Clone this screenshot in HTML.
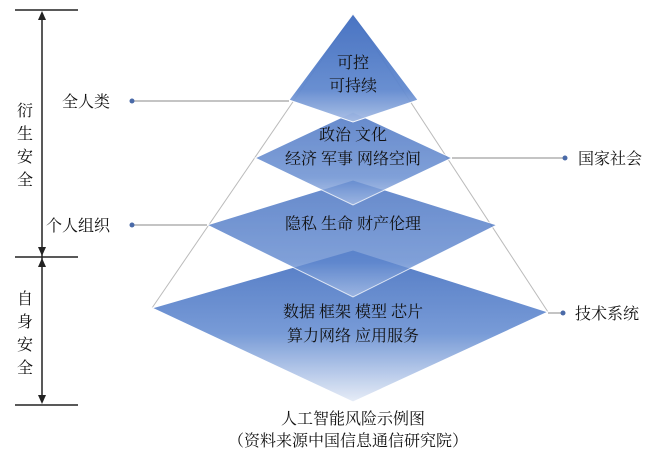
<!DOCTYPE html>
<html><head><meta charset="utf-8"><style>
body{margin:0;background:#fff;width:660px;height:455px;overflow:hidden}
text{font-family:"Liberation Serif","Noto Serif CJK SC",serif;fill:#111}
</style></head><body>
<svg width="660" height="455" viewBox="0 0 660 455" xmlns="http://www.w3.org/2000/svg">
<defs>
<linearGradient id="g" x1="0" y1="0" x2="0" y2="1">
<stop offset="0" stop-color="#3f6cbf"/><stop offset="0.7" stop-color="#6189cf"/><stop offset="1" stop-color="#a9bfe6"/>
</linearGradient>
<linearGradient id="g4" x1="0" y1="0" x2="0" y2="1">
<stop offset="0" stop-color="#4a74c2"/><stop offset="0.55" stop-color="#7196d5"/><stop offset="1" stop-color="#e6ecf7"/>
</linearGradient>
</defs>
<line x1="353" y1="14" x2="152" y2="308" stroke="#bbb" stroke-width="1"/>
<line x1="353" y1="14" x2="548" y2="312" stroke="#bbb" stroke-width="1"/>
<polygon points="353,250 548,312 353,402 152,308" fill="url(#g4)" stroke="#fff" stroke-width="1" opacity="0.95"/>
<polygon points="353,180 497,225 353,297 207,225" fill="url(#g)" stroke="#fff" stroke-width="1" opacity="0.8"/>
<polygon points="353,112 452,158 353,205 255,158" fill="url(#g)" stroke="#fff" stroke-width="1" opacity="0.8"/>
<polygon points="353,14 418,100 353,122 289,100" fill="url(#g)" stroke="#fff" stroke-width="1" opacity="0.95"/>
<g font-size="16" text-anchor="middle">
<text x="353" y="68">可控</text>
<text x="353" y="91">可持续</text>
<text x="353" y="140">政治  文化</text>
<text x="353" y="164">经济 军事 网络空间</text>
<text x="353" y="229">隐私 生命 财产伦理</text>
<text x="353" y="317">数据 框架 模型 芯片</text>
<text x="353" y="341">算力网络 应用服务</text>
<text x="353" y="424">人工智能风险示例图</text>
<text x="348" y="446">（资料来源中国信息通信研究院）</text>
</g>
<g stroke="#888" stroke-width="1">
<line x1="132" y1="101" x2="289" y2="101"/>
<line x1="132" y1="225" x2="207" y2="225"/>
<line x1="452" y1="158" x2="565" y2="158"/>
<line x1="548" y1="313" x2="563" y2="313"/>
</g>
<g fill="#4a6aa8">
<circle cx="132" cy="101" r="2.5"/><circle cx="132" cy="225" r="2.5"/>
<circle cx="565" cy="158" r="2.5"/><circle cx="563" cy="313" r="2.5"/>
</g>
<g font-size="16">
<text x="62" y="107">全人类</text>
<text x="46" y="231">个人组织</text>
<text x="578" y="164">国家社会</text>
<text x="575" y="319">技术系统</text>
</g>
<g stroke="#222" stroke-width="1.5">
<line x1="15" y1="10" x2="78" y2="10"/>
<line x1="15" y1="257" x2="78" y2="257"/>
<line x1="15" y1="405" x2="78" y2="405"/>
<line x1="42" y1="14" x2="42" y2="401"/>
</g>
<g fill="#222">
<polygon points="42,11 38,20 46,20"/>
<polygon points="42,256 38,247 46,247"/>
<polygon points="42,258 38,267 46,267"/>
<polygon points="42,404 38,395 46,395"/>
</g>
<g font-size="16" text-anchor="middle">
<text x="25" y="116">衍</text><text x="25" y="139">生</text><text x="25" y="162">安</text><text x="25" y="185">全</text>
<text x="25" y="304">自</text><text x="25" y="327">身</text><text x="25" y="350">安</text><text x="25" y="373">全</text>
</g>
</svg>
</body></html>
